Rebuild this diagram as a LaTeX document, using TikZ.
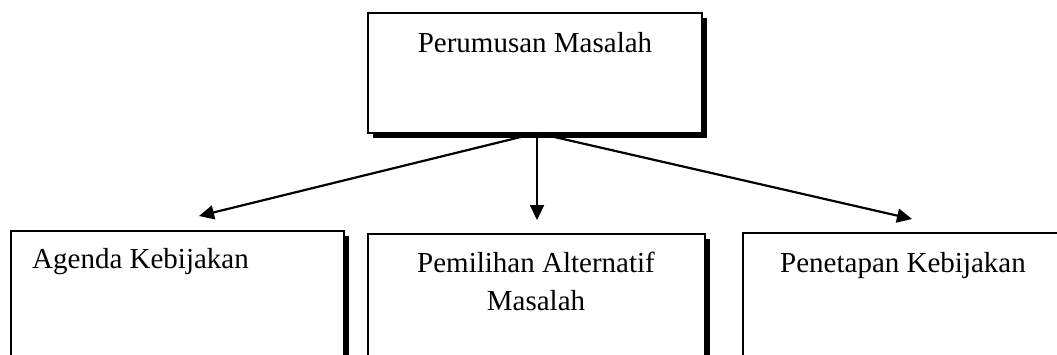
\documentclass[tikz,border=0pt]{standalone}
\usepackage{fontspec}
\setmainfont{Liberation Serif}
\usetikzlibrary{arrows.meta,shadows}
\begin{document}
\begin{tikzpicture}[x=1pt,y=-1pt,
  box/.style={draw=black,line width=1.8pt,fill=white,rectangle,inner sep=0pt,
    drop shadow={shadow xshift=5pt,shadow yshift=-5pt,fill=black,opacity=1}},
  lbl/.style={inner sep=0pt,font=\fontsize{29}{38}\selectfont,align=center},
  arr/.style={line width=2.2pt,-{Triangle[length=15pt,width=14pt]}}]
\useasboundingbox (0,0) rectangle (1057,354);
\clip (0,0) rectangle (1057,354);
\node[box,minimum width=334pt,minimum height=120pt] (top) at (535,73) {};
\node[box,minimum width=333pt,minimum height=200pt] (agenda) at (177.5,331) {};
\node[box,minimum width=337pt,minimum height=200pt] (pilih) at (536.5,334) {};
\node[box,minimum width=360pt,minimum height=200pt] (tetap) at (923,333) {};
\node[lbl,anchor=base] (ttop) at (535,52) {Perumusan Masalah};
\node[lbl,anchor=base west] (tagenda) at (32,268) {Agenda Kebijakan};
\node[lbl,anchor=base] (tpilih) at (536,310) {Pemilihan Alternatif\\Masalah};
\node[lbl,anchor=base west] (ttetap) at (780,272) {Penetapan Kebijakan};
\coordinate (o) at (537,133);
\coordinate (t1) at (199,216);
\coordinate (t2) at (537,220);
\coordinate (t3) at (912,219);
\draw[arr] (o) -- (t1);
\draw[arr] (o) -- (t2);
\draw[arr] (o) -- (t3);
\end{tikzpicture}
\end{document}
